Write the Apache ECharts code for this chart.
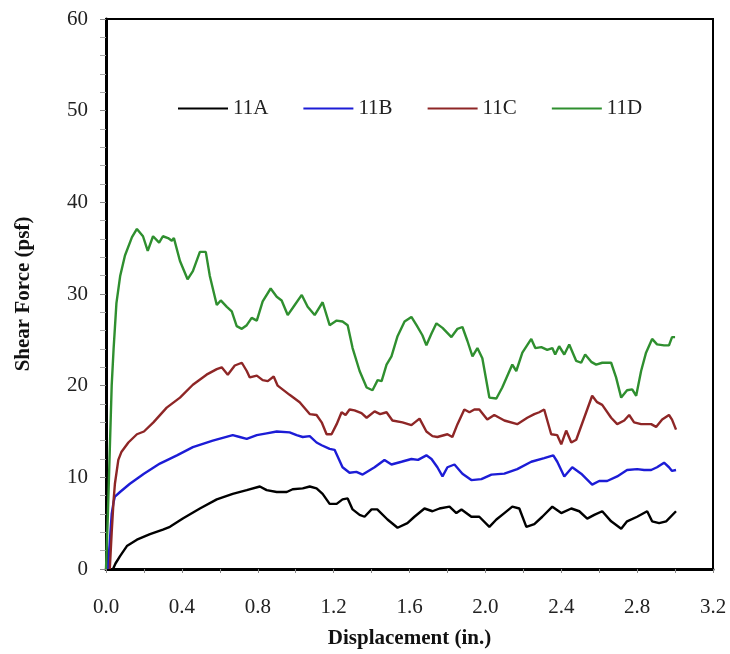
<!DOCTYPE html>
<html>
<head>
<meta charset="utf-8">
<script src="https://cdn.jsdelivr.net/npm/echarts@6/dist/echarts.min.js"></script>
<style>
  html, body { margin: 0; padding: 0; background: #fff; }
  #chart { width: 730px; height: 654px; }
</style>
</head>
<body>
<div id="chart"></div>
<script>
// [displacement (in.), shear force (psf)]
const series11A = [
  [0.037, 0], [0.05, 0.6], [0.074, 1.4], [0.11, 2.5], [0.163, 3.2], [0.232, 3.8], [0.3, 4.3],
  [0.337, 4.6], [0.405, 5.5], [0.495, 6.6], [0.584, 7.6], [0.668, 8.2], [0.742, 8.6], [0.811, 9.0],
  [0.847, 8.6], [0.9, 8.4], [0.953, 8.4], [0.984, 8.7], [1.037, 8.8], [1.074, 9.0], [1.11, 8.8],
  [1.142, 8.2], [1.179, 7.1], [1.216, 7.1], [1.247, 7.6], [1.274, 7.7], [1.3, 6.5], [1.337, 5.9],
  [1.363, 5.7], [1.4, 6.5], [1.43, 6.5], [1.484, 5.4], [1.537, 4.5], [1.589, 5.0], [1.626, 5.7],
  [1.679, 6.6], [1.721, 6.3], [1.758, 6.6], [1.811, 6.8], [1.847, 6.1], [1.874, 6.5], [1.926, 5.7],
  [1.968, 5.7], [2.021, 4.6], [2.058, 5.4], [2.1, 6.1], [2.142, 6.8], [2.179, 6.6], [2.216, 4.6],
  [2.258, 4.9], [2.3, 5.7], [2.353, 6.8], [2.4, 6.1], [2.453, 6.6], [2.495, 6.3], [2.537, 5.5],
  [2.574, 5.9], [2.616, 6.3], [2.663, 5.2], [2.716, 4.4], [2.747, 5.2], [2.8, 5.7], [2.853, 6.3],
  [2.879, 5.2], [2.916, 5.0], [2.953, 5.2], [3.005, 6.3]
]

const series11B = [
  [0.01, 0], [0.02, 3], [0.03, 6], [0.04, 7.3], [0.047, 7.9], [0.074, 8.4], [0.126, 9.3], [0.2, 10.4],
  [0.284, 11.5], [0.374, 12.4], [0.458, 13.3], [0.563, 14.0], [0.668, 14.6], [0.705, 14.4],
  [0.742, 14.2], [0.795, 14.6], [0.847, 14.8], [0.9, 15.0], [0.968, 14.9], [1.005, 14.6],
  [1.037, 14.4], [1.074, 14.5], [1.11, 13.8], [1.137, 13.5], [1.179, 13.1], [1.205, 13.0],
  [1.247, 11.1], [1.284, 10.5], [1.32, 10.6], [1.353, 10.3], [1.416, 11.1], [1.468, 11.9],
  [1.505, 11.4], [1.558, 11.7], [1.61, 12.0], [1.645, 11.9], [1.689, 12.4], [1.716, 12.0],
  [1.747, 11.1], [1.774, 10.1], [1.8, 11.1], [1.837, 11.4], [1.879, 10.4], [1.926, 9.7],
  [1.979, 9.8], [2.032, 10.3], [2.1, 10.4], [2.168, 10.9], [2.242, 11.7], [2.31, 12.1],
  [2.358, 12.4], [2.379, 11.7], [2.416, 10.1], [2.458, 11.1], [2.505, 10.4], [2.563, 9.2],
  [2.6, 9.6], [2.642, 9.6], [2.695, 10.1], [2.747, 10.8], [2.8, 10.9], [2.837, 10.8],
  [2.874, 10.8], [2.905, 11.1], [2.942, 11.6], [2.968, 11.1], [2.984, 10.7], [3.005, 10.8]
]

const series11C = [
  [0.02, 0], [0.03, 4], [0.04, 7.5], [0.047, 9.3], [0.065, 11.9], [0.082, 12.8], [0.118, 13.8],
  [0.163, 14.7], [0.2, 15.0], [0.25, 16.0], [0.32, 17.6], [0.39, 18.7], [0.458, 20.1], [0.53, 21.2],
  [0.584, 21.8], [0.61, 22.0], [0.642, 21.2], [0.679, 22.2], [0.716, 22.5], [0.742, 21.6],
  [0.758, 20.9], [0.795, 21.1], [0.826, 20.6], [0.853, 20.5], [0.884, 21.0], [0.905, 20.0],
  [0.968, 19.0], [1.021, 18.2], [1.074, 16.9], [1.11, 16.8], [1.137, 16.0], [1.163, 14.7],
  [1.189, 14.7], [1.216, 15.8], [1.242, 17.1], [1.263, 16.8], [1.284, 17.4], [1.31, 17.3],
  [1.347, 17.0], [1.374, 16.5], [1.416, 17.2], [1.445, 16.9], [1.479, 17.1], [1.51, 16.2],
  [1.563, 16.0], [1.61, 15.7], [1.653, 16.4], [1.689, 15.0], [1.721, 14.5], [1.747, 14.4],
  [1.8, 14.7], [1.826, 14.4], [1.853, 15.8], [1.889, 17.4], [1.916, 17.1], [1.942, 17.4],
  [1.968, 17.4], [2.01, 16.3], [2.047, 16.8], [2.1, 16.2], [2.168, 15.8], [2.221, 16.5],
  [2.258, 16.9], [2.284, 17.1], [2.31, 17.4], [2.347, 14.7], [2.379, 14.6], [2.4, 13.6],
  [2.426, 15.1], [2.453, 13.8], [2.479, 14.1], [2.521, 16.5], [2.563, 18.9], [2.589, 18.2],
  [2.616, 17.9], [2.663, 16.5], [2.695, 15.8], [2.732, 16.2], [2.758, 16.8], [2.784, 16.0],
  [2.821, 15.8], [2.874, 15.8], [2.9, 15.5], [2.932, 16.3], [2.968, 16.8], [2.984, 16.3], [3.005, 15.2]
]

const series11D = [
  [0, 0], [0.01, 6], [0.02, 13], [0.03, 20], [0.04, 24], [0.055, 29], [0.075, 32], [0.1, 34.2],
  [0.137, 36.2], [0.163, 37.1], [0.195, 36.3], [0.22, 34.7], [0.248, 36.3], [0.28, 35.6], [0.3, 36.3],
  [0.327, 36.1], [0.347, 35.8], [0.358, 36.1], [0.39, 33.6], [0.43, 31.6], [0.458, 32.5],
  [0.495, 34.6], [0.526, 34.6], [0.547, 32.0], [0.584, 28.8], [0.605, 29.3], [0.637, 28.6],
  [0.663, 28.1], [0.689, 26.5], [0.716, 26.2], [0.742, 26.6], [0.768, 27.4], [0.795, 27.1],
  [0.826, 29.2], [0.868, 30.6], [0.9, 29.7], [0.926, 29.3], [0.958, 27.7], [0.995, 28.8],
  [1.032, 29.9], [1.063, 28.6], [1.1, 27.7], [1.142, 29.1], [1.179, 26.6], [1.216, 27.1],
  [1.247, 27.0], [1.274, 26.6], [1.3, 24.1], [1.337, 21.6], [1.374, 19.8], [1.405, 19.5],
  [1.432, 20.6], [1.453, 20.5], [1.479, 22.3], [1.505, 23.2], [1.537, 25.4], [1.574, 27.0],
  [1.61, 27.5], [1.637, 26.6], [1.668, 25.5], [1.689, 24.4], [1.716, 25.7], [1.742, 26.8],
  [1.774, 26.3], [1.821, 25.3], [1.853, 26.2], [1.879, 26.4], [1.905, 24.9], [1.932, 23.2],
  [1.958, 24.1], [1.984, 23.0], [2.021, 18.7], [2.058, 18.6], [2.089, 19.8], [2.142, 22.3],
  [2.163, 21.6], [2.195, 23.6], [2.242, 25.1], [2.263, 24.1], [2.295, 24.2], [2.326, 23.9],
  [2.353, 24.1], [2.368, 23.4], [2.389, 24.3], [2.416, 23.4], [2.442, 24.5], [2.479, 22.7],
  [2.505, 22.5], [2.526, 23.4], [2.558, 22.6], [2.584, 22.3], [2.616, 22.5], [2.663, 22.5],
  [2.689, 20.9], [2.716, 18.7], [2.747, 19.5], [2.774, 19.6], [2.795, 18.9], [2.821, 21.6],
  [2.847, 23.6], [2.879, 25.1], [2.905, 24.5], [2.942, 24.4], [2.968, 24.4], [2.984, 25.3], [3.0, 25.3]
]

const seriesNames = ['11A', '11B', '11C', '11D']
const seriesColors = ['#000000', '#1c1cd6', '#8e2626', '#2f8f2f']
const seriesData = [series11A, series11B, series11C, series11D]

const font = '"Liberation Serif", "Times New Roman", serif'

const chart = echarts.init(document.getElementById('chart'))

const option = {
  animation: false,
  backgroundColor: '#fff',
  grid: {
    left: 106,
    right: 17,
    top: 19,
    bottom: 81,
    show: true,
    borderColor: '#000',
    borderWidth: 2
  },
  legend: {
    left: 173,
    top: 93,
    itemGap: 35,
    itemWidth: 50,
    itemHeight: 2,
    icon: 'rect',
    data: seriesNames,
    textStyle: {
      fontFamily: font,
      fontSize: 21,
      color: '#222'
    }
  },
  xAxis: {
    type: 'value',
    min: 0,
    max: 3.2,
    interval: 0.4,
    name: 'Displacement (in.)',
    nameLocation: 'middle',
    nameGap: 59,
    nameTextStyle: {
      fontFamily: font,
      fontSize: 21,
      fontWeight: 'bold',
      color: '#111'
    },
    axisLine: { show: true, lineStyle: { color: '#000', width: 3 } },
    axisTick: { show: true, length: 4, lineStyle: { color: '#888', width: 1 } },
    minorTick: { show: true, splitNumber: 2, length: 4, lineStyle: { color: '#888', width: 1 } },
    splitLine: { show: false },
    axisLabel: {
      margin: 28,
      fontFamily: font,
      fontSize: 21,
      color: '#222',
      formatter: v => v.toFixed(1)
    }
  },
  yAxis: {
    type: 'value',
    min: 0,
    max: 60,
    interval: 10,
    name: 'Shear Force (psf)',
    nameLocation: 'middle',
    nameGap: 72,
    nameTextStyle: {
      fontFamily: font,
      fontSize: 21,
      fontWeight: 'bold',
      color: '#111'
    },
    axisLine: { show: true, lineStyle: { color: '#000', width: 3 } },
    axisTick: { show: true, length: 6, lineStyle: { color: '#888', width: 1 } },
    minorTick: { show: true, splitNumber: 5, length: 6, lineStyle: { color: '#aaa', width: 1 } },
    splitLine: { show: false },
    axisLabel: {
      margin: 18,
      fontFamily: font,
      fontSize: 21,
      color: '#222'
    }
  },
  series: seriesNames.map((name, i) => ({
    name: name,
    type: 'line',
    data: seriesData[i],
    showSymbol: false,
    symbol: 'none',
    color: seriesColors[i],
    lineStyle: { width: 2.4, color: seriesColors[i] },
    z: 3
  }))
}

chart.setOption(option)
</script>
</body>
</html>
